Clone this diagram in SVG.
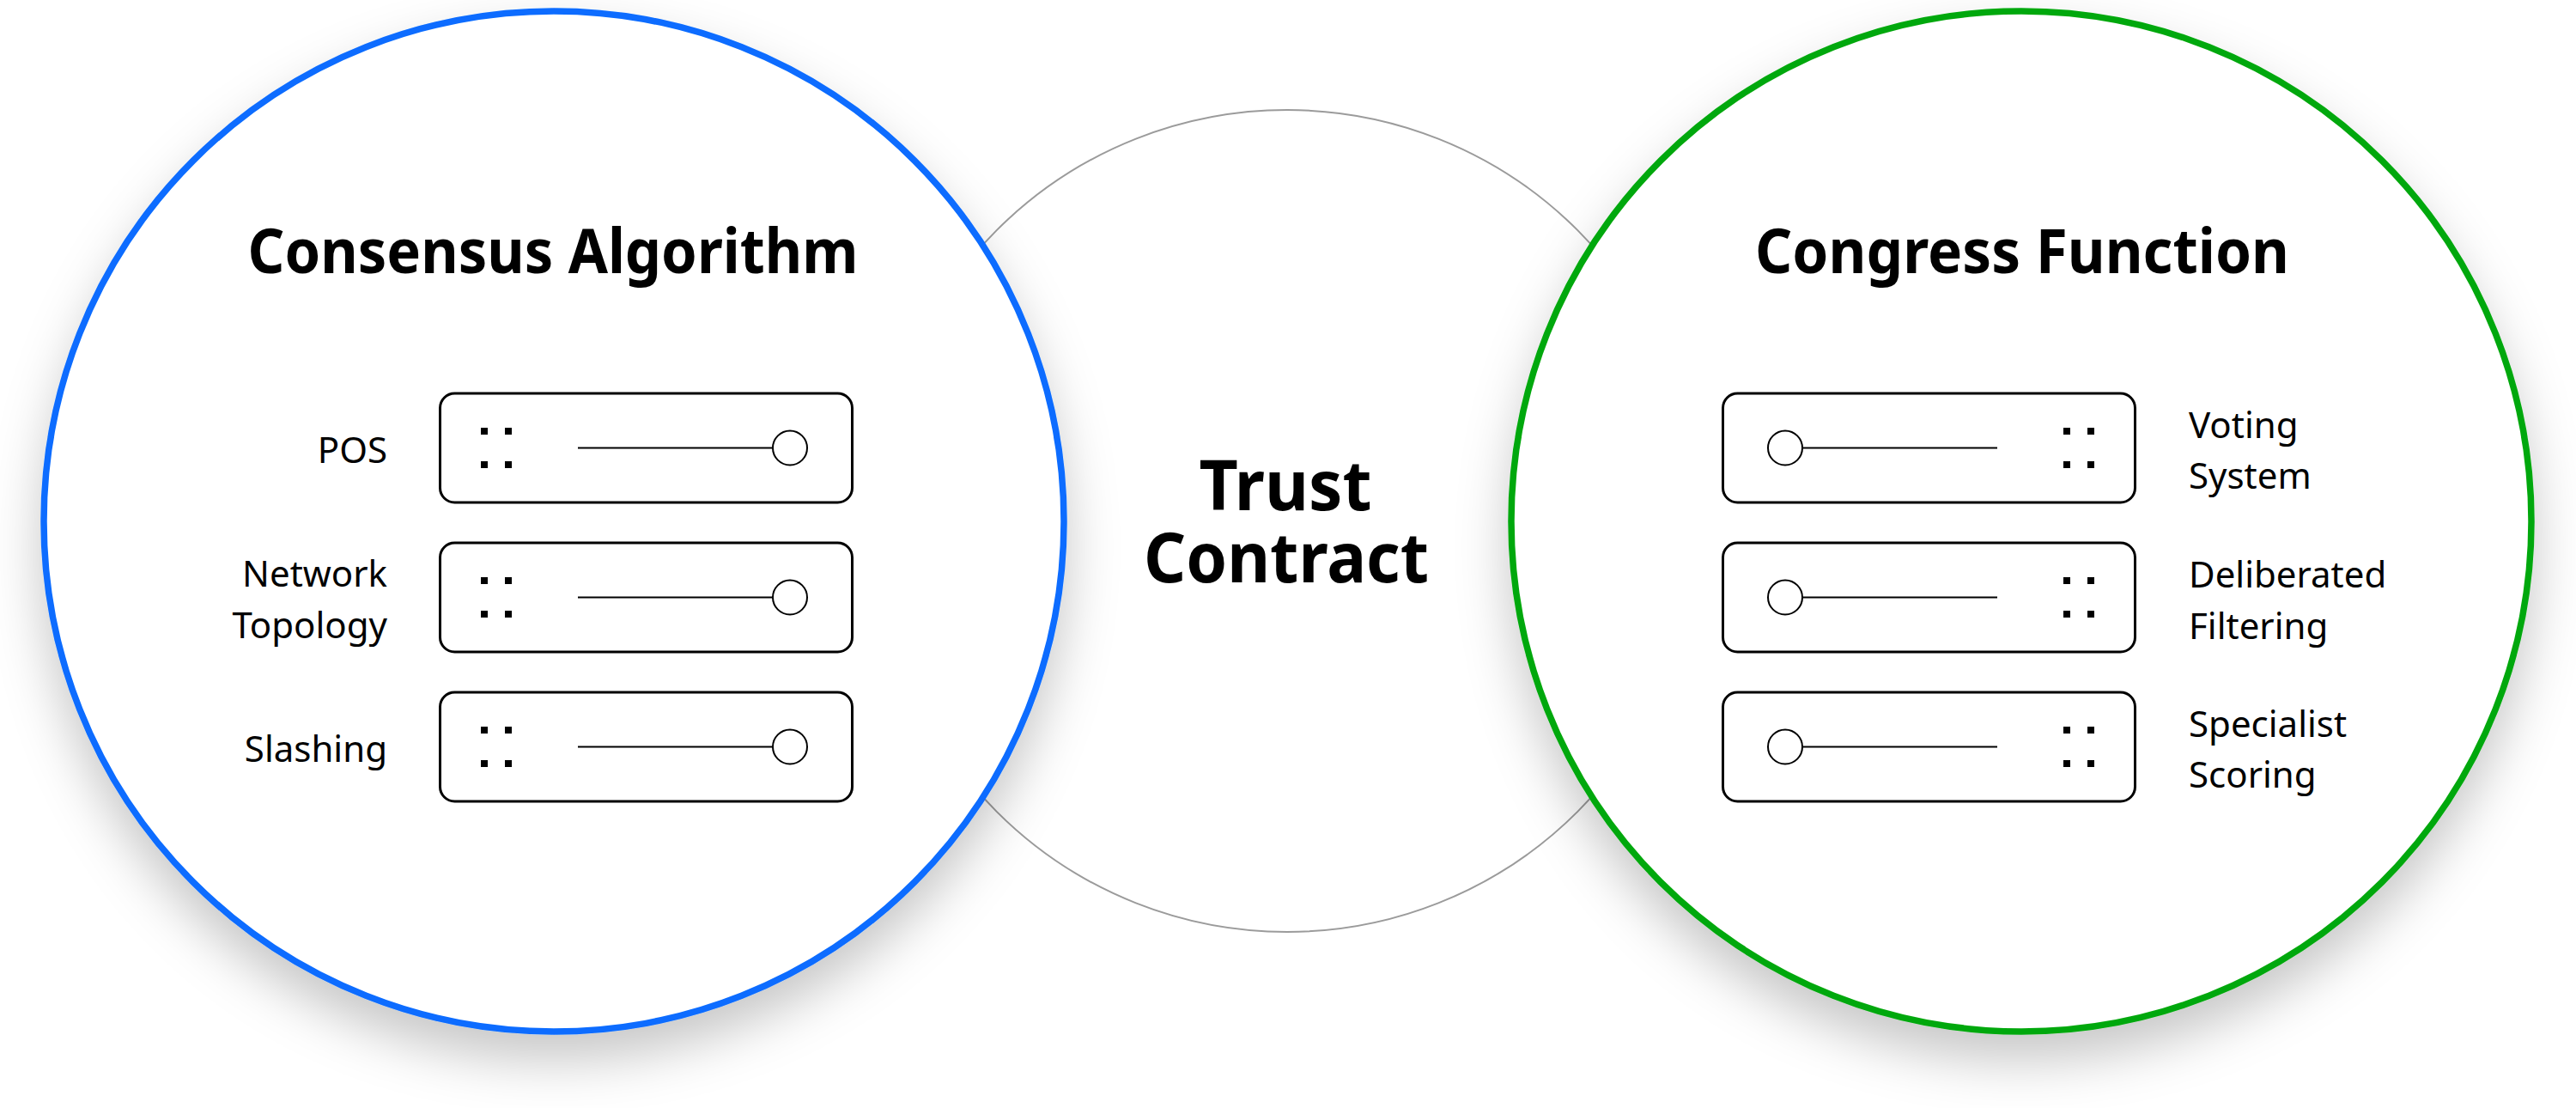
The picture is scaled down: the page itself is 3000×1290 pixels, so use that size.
<svg xmlns="http://www.w3.org/2000/svg" xmlns:xlink="http://www.w3.org/1999/xlink" width="3000" height="1290" viewBox="0 0 3000 1290">
  <defs>
    <filter id="shadow" x="-20%" y="-20%" width="140%" height="150%">
      <feDropShadow dx="0" dy="30" stdDeviation="30" flood-color="#000" flood-opacity="0.22"/>
    </filter>
    <g id="slider">
      <rect x="0" y="0" width="480" height="127" rx="17" ry="17" fill="#fff" stroke="#000" stroke-width="3"/>
      <rect x="47.5" y="40" width="8" height="8" fill="#000"/>
      <rect x="75.5" y="40" width="8" height="8" fill="#000"/>
      <rect x="47.5" y="79" width="8" height="8" fill="#000"/>
      <rect x="75.5" y="79" width="8" height="8" fill="#000"/>
      <line x1="160.5" y1="63.5" x2="387.5" y2="63.5" stroke="#000" stroke-width="2"/>
      <circle cx="407.5" cy="63.5" r="20" fill="#fff" stroke="#000" stroke-width="2"/>
    </g>
  </defs>
  <style>
    .title { font-family: "Noto Sans", "Liberation Sans", sans-serif; font-weight: 700; font-size: 72px; fill: #000; text-anchor: middle; }
    .center { font-family: "Noto Sans", "Liberation Sans", sans-serif; font-weight: 700; font-size: 81px; fill: #000; text-anchor: middle; }
    .label { font-family: "Noto Sans", "Liberation Sans", sans-serif; font-weight: 400; font-size: 42px; fill: #000; }
    .left { text-anchor: end; }
    .right { text-anchor: start; }
  </style>
  <rect x="0" y="0" width="3000" height="1290" fill="#fff"/>

  <g id="node-trust">
    <circle cx="1499" cy="606.5" r="478.5" fill="#fff" stroke="#9b9b9b" stroke-width="2"/>
    <text class="center"><tspan x="1497" y="594" textLength="201" lengthAdjust="spacingAndGlyphs">Trust</tspan><tspan x="1498" y="678" textLength="332" lengthAdjust="spacingAndGlyphs">Contract</tspan></text>
  </g>

  <g id="node-consensus">
    <circle cx="645" cy="607" r="594" fill="#fff" stroke="#0A6CFF" stroke-width="7.5" filter="url(#shadow)"/>
    <text class="title" x="644" y="318" textLength="711" lengthAdjust="spacingAndGlyphs">Consensus Algorithm</text>
    <use xlink:href="#slider" transform="translate(512.5,458)"/>
    <use xlink:href="#slider" transform="translate(512.5,632)"/>
    <use xlink:href="#slider" transform="translate(512.5,806)"/>
    <text class="label left" x="451" y="539">POS</text>
    <text class="label left"><tspan x="451" y="683">Network</tspan><tspan x="451" y="743">Topology</tspan></text>
    <text class="label left" x="451" y="887">Slashing</text>
  </g>

  <g id="node-congress">
    <circle cx="2354" cy="607" r="594" fill="#fff" stroke="#06A80E" stroke-width="7.5" filter="url(#shadow)"/>
    <text class="title" x="2355" y="318" textLength="622" lengthAdjust="spacingAndGlyphs">Congress Function</text>
    <use xlink:href="#slider" transform="translate(2486.5,458) scale(-1,1)"/>
    <use xlink:href="#slider" transform="translate(2486.5,632) scale(-1,1)"/>
    <use xlink:href="#slider" transform="translate(2486.5,806) scale(-1,1)"/>
    <text class="label right"><tspan x="2549" y="510">Voting</tspan><tspan x="2549" y="569">System</tspan></text>
    <text class="label right"><tspan x="2549" y="684">Deliberated</tspan><tspan x="2549" y="744">Filtering</tspan></text>
    <text class="label right"><tspan x="2549" y="858">Specialist</tspan><tspan x="2549" y="917">Scoring</tspan></text>
  </g>
</svg>
